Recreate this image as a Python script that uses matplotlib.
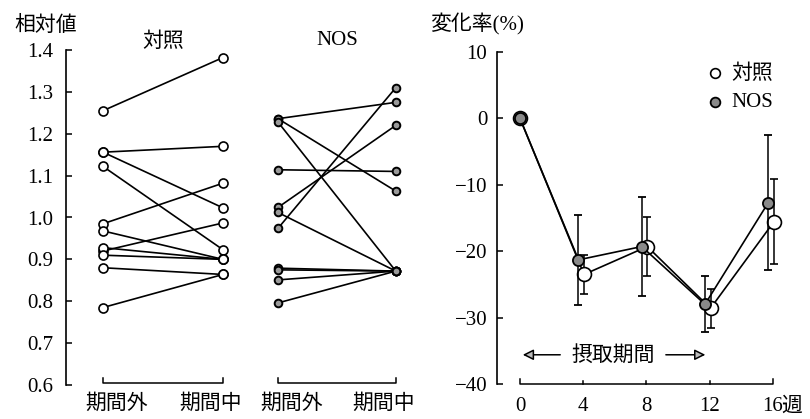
import numpy as np
import matplotlib
matplotlib.use("Agg")
import matplotlib.pyplot as plt

plt.rcParams['font.family'] = ['Liberation Serif', 'Noto Sans CJK JP']
plt.rcParams['axes.unicode_minus'] = True

# ---------------- data: left panel (relative values) ----------------
group_names = ['対照', 'NOS']
period_labels = ['期間外', '期間中']
ctrl_out = [1.255, 1.156, 1.156, 1.122, 0.985, 0.968, 0.920, 0.928, 0.910, 0.880, 0.785]
ctrl_in = [1.382, 1.170, 1.023, 0.923, 1.082, 0.900, 0.987, 0.900, 0.900, 0.864, 0.864]
nos_out = [1.236, 1.236, 1.228, 1.114, 1.024, 1.012, 0.974, 0.879, 0.875, 0.851, 0.796]
nos_in = [1.275, 1.063, 0.872, 1.110, 1.220, 0.872, 1.310, 0.872, 0.872, 0.872, 0.872]
left_yticks = [0.6, 0.7, 0.8, 0.9, 1.0, 1.1, 1.2, 1.3, 1.4]

# ---------------- data: right panel (% change) ----------------
weeks = [0, 4, 8, 12, 16]
week_labels = ['0', '4', '8', '12', '16']
ctrl_mean = [0, -23.5, -19.3, -28.6, -15.6]
ctrl_sd = [0, 2.9, 4.45, 2.9, 6.4]
nos_mean = [0, -21.3, -19.3, -28.0, -12.7]
nos_sd = [0, 6.8, 7.4, 4.2, 10.2]
right_yticks = [10, 0, -10, -20, -30, -40]

W, H = 810, 419
fig = plt.figure(figsize=(W / 100, H / 100), dpi=100)

FS = 15
CJK = ['Noto Sans CJK JP']

# ================= left panel =================
axL = fig.add_axes([66 / W, (H - 385) / H, (410 - 66) / W, 335 / H])
xpos = [0.0, 1.0, 1.458, 2.44]
axL.set_xlim(-37 / 120, 307 / 120)
axL.set_ylim(0.6, 1.4)
for s in ['top', 'right', 'bottom']:
    axL.spines[s].set_visible(False)
axL.spines['left'].set_linewidth(1.2)
axL.set_xticks([])
axL.set_yticks(left_yticks)
axL.set_yticklabels([f"{v:.1f}" for v in left_yticks])
axL.tick_params(axis='y', direction='in', length=4, width=1.1, pad=9, labelsize=FS)

groups = [(ctrl_out, ctrl_in, dict(ms=6.5, mfc='white', mec='black', mew=1.2)),
          (nos_out, nos_in, dict(ms=5.5, mfc='#9a9a9a', mec='black', mew=1.4))]
for gi, (vo, vi, mk) in enumerate(groups):
    x0, x1 = xpos[2 * gi], xpos[2 * gi + 1]
    for a, b in zip(vo, vi):
        axL.plot([x0, x1], [a, b], color='black', lw=1.2, zorder=2)
    axL.plot([x0] * len(vo), vo, 'o', ls='none', zorder=3, **mk)
    axL.plot([x1] * len(vi), vi, 'o', ls='none', zorder=3, **mk)
    # bracket under each group
    y0 = 0.6 + 0.005
    axL.plot([x0, x0, x1, x1], [y0 + 0.012, y0, y0, y0 + 0.012], color='black',
             lw=1.1, clip_on=False)
    # group title
    axL.text((x0 + x1) / 2, 1.027, group_names[gi], transform=axL.get_xaxis_transform(),
             ha='center', va='center', fontsize=FS,
             family=CJK if gi == 0 else ['Liberation Serif'])
    # period labels
    axL.text(x0 + 0.115, -0.054, period_labels[0], transform=axL.get_xaxis_transform(),
             ha='center', va='center', fontsize=FS, family=CJK)
    axL.text(x1 - 0.10, -0.054, period_labels[1], transform=axL.get_xaxis_transform(),
             ha='center', va='center', fontsize=FS, family=CJK)

fig.text(46 / W, 1 - 25 / H, '相対値', ha='center', va='center', fontsize=FS, family=CJK)

# ================= right panel =================
axR = fig.add_axes([497 / W, (H - 384) / H, (790 - 497) / W, 332 / H])
axR.set_xlim(-23 / 15.81, 270 / 15.81)
axR.set_ylim(-40, 10)
for s in ['top', 'right', 'bottom']:
    axR.spines[s].set_visible(False)
axR.spines['left'].set_linewidth(1.2)
axR.set_yticks(right_yticks)
axR.set_yticklabels([str(v).replace('-', '\u2212') for v in right_yticks])
axR.tick_params(axis='y', direction='in', length=4, width=1.1, pad=7, labelsize=FS)
axR.set_xticks(weeks)
axR.set_xticklabels(week_labels)
axR.tick_params(axis='x', length=0, pad=9, labelsize=FS)

wk = np.array(weeks, dtype=float)
nos_x = wk + np.where(wk > 0, -0.3, 0.0)
ctrl_x = wk + np.where(wk > 0, 0.05, 0.0)

axR.errorbar(ctrl_x, ctrl_mean, yerr=ctrl_sd, color='black', lw=1.2, elinewidth=1.1,
             capsize=3, capthick=1.1, marker='o', ms=10, mfc='white', mec='black',
             mew=1.2, zorder=3)
axR.errorbar(nos_x, nos_mean, yerr=nos_sd, color='black', lw=1.2, elinewidth=1.1,
             capsize=3, capthick=1.1, marker='o', ms=8, mfc='#8a8a8a', mec='black',
             mew=1.3, zorder=4)

# bracket axis at bottom
yb = -40
axR.plot([wk[0], wk[0], wk[-1], wk[-1]], [yb + 0.7, yb, yb, yb + 0.7], color='black',
         lw=1.1, clip_on=False)
for w in wk[1:-1]:
    axR.plot([w, w], [yb, yb + 0.5], color='black', lw=1.1, clip_on=False)

axR.annotate('週', xy=(wk[-1], 0), xycoords=('data', 'axes fraction'),
             xytext=(13.5, -15.5), textcoords='offset points', ha='center', va='center',
             fontsize=FS, family=CJK)

# intake period arrow
ya = -35.6
axR.text(5.9, ya, '摂取期間', ha='center', va='center', fontsize=FS, family=CJK)
arrow_kw = dict(arrowstyle='-|>', lw=1.1, color='black', mutation_scale=16, fc='#bbbbbb')
axR.annotate('', xy=(0, ya), xytext=(2.72, ya), arrowprops=arrow_kw)
axR.annotate('', xy=(11.9, ya), xytext=(9.05, ya), arrowprops=arrow_kw)

# legend
axR.plot([0.744], [0.937], 'o', transform=axR.transAxes, ms=7, mfc='white', mec='black',
         mew=1.2, clip_on=False)
axR.plot([0.744], [0.849], 'o', transform=axR.transAxes, ms=7, mfc='#8a8a8a', mec='black',
         mew=1.3, clip_on=False)
axR.text(0.80, 0.937, '対照', transform=axR.transAxes, ha='left', va='center', fontsize=FS,
         family=CJK)
axR.text(0.80, 0.849, 'NOS', transform=axR.transAxes, ha='left', va='center', fontsize=FS)

fig.text(430 / W, 1 - 24 / H, '変化率(%)', ha='left', va='center', fontsize=FS)

fig.savefig('out.png', dpi=100)
